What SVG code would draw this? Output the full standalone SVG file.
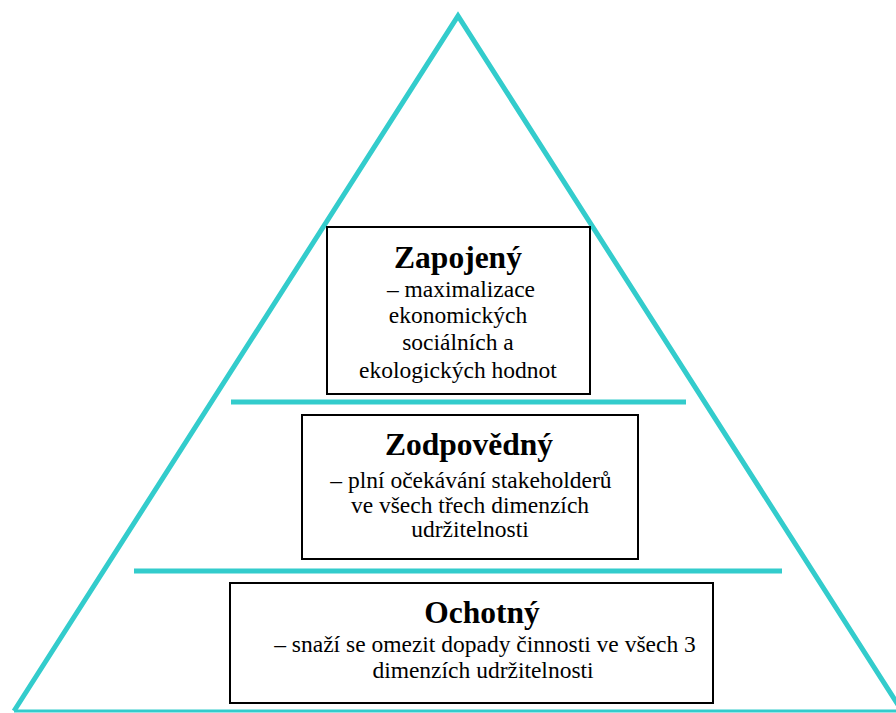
<svg xmlns="http://www.w3.org/2000/svg" width="896" height="713" viewBox="0 0 896 713">
<rect width="896" height="713" fill="#fff"/>
<g id="pyramid" fill="none" stroke="#33cccc">
<polyline points="14,711 458,16 902,711" stroke-width="5"/>
<line x1="14" y1="711" x2="896" y2="711" stroke-width="3"/>
</g>
<g id="connectors" stroke="#33cccc" stroke-width="5">
<line x1="231" y1="402" x2="686" y2="402"/>
<line x1="134" y1="571" x2="782" y2="571"/>
</g>
<g id="zapojeny">
<rect x="327" y="227" width="263" height="167" fill="#fff" stroke="#000" stroke-width="2"/>
<text x="458" y="268" font-family="Liberation Serif, serif" font-size="31.5" font-weight="bold" text-anchor="middle">Zapojený</text>
<text x="461" y="297" font-family="Times New Roman, Liberation Serif, serif" font-size="23.5" text-anchor="middle">– maximalizace</text>
<text x="458" y="323" font-family="Times New Roman, Liberation Serif, serif" font-size="23.5" text-anchor="middle">ekonomických</text>
<text x="458" y="350" font-family="Times New Roman, Liberation Serif, serif" font-size="23.5" text-anchor="middle">sociálních a</text>
<text x="458" y="378" font-family="Times New Roman, Liberation Serif, serif" font-size="23.5" text-anchor="middle">ekologických hodnot</text>
</g>
<g id="zodpovedny">
<rect x="302" y="415" width="336" height="144" fill="#fff" stroke="#000" stroke-width="2"/>
<text x="469" y="455" font-family="Liberation Serif, serif" font-size="31.5" font-weight="bold" text-anchor="middle">Zodpovědný</text>
<text x="471" y="488" font-family="Times New Roman, Liberation Serif, serif" font-size="23.5" text-anchor="middle">– plní očekávání stakeholderů</text>
<text x="470" y="513" font-family="Times New Roman, Liberation Serif, serif" font-size="23.5" text-anchor="middle">ve všech třech dimenzích</text>
<text x="470" y="537" font-family="Times New Roman, Liberation Serif, serif" font-size="23.5" text-anchor="middle">udržitelnosti</text>
</g>
<g id="ochotny">
<rect x="230" y="583" width="483" height="120" fill="#fff" stroke="#000" stroke-width="2"/>
<text x="482" y="623" font-family="Liberation Serif, serif" font-size="31.5" font-weight="bold" text-anchor="middle">Ochotný</text>
<text x="485" y="652" font-family="Times New Roman, Liberation Serif, serif" font-size="23.5" text-anchor="middle">– snaží se omezit dopady činnosti ve všech 3</text>
<text x="483" y="678" font-family="Times New Roman, Liberation Serif, serif" font-size="23.5" text-anchor="middle">dimenzích udržitelnosti</text>
</g>
</svg>
